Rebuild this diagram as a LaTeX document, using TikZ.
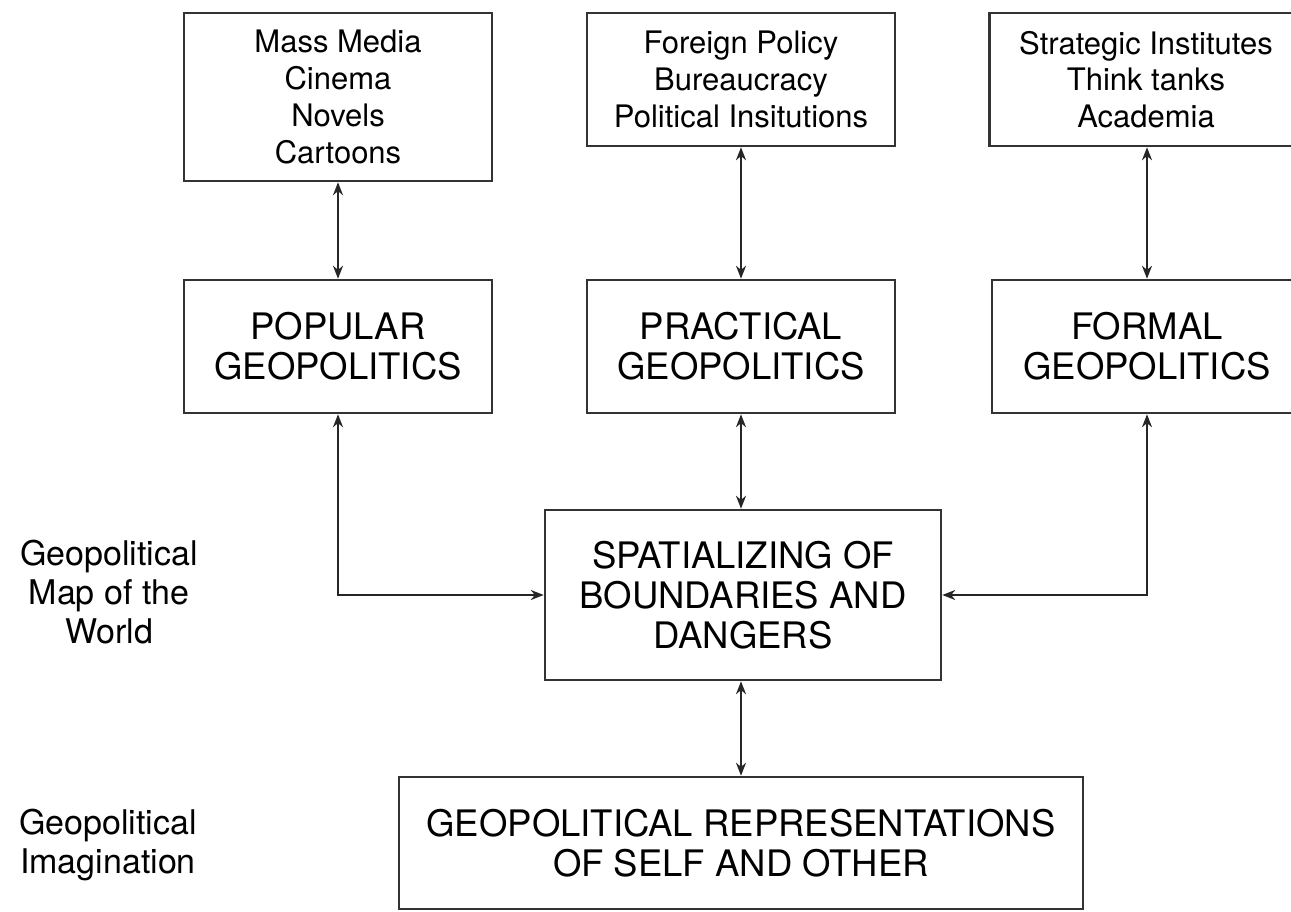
\documentclass[tikz,border=0pt]{standalone}
\usepackage{fontspec}
\setmainfont{TeX Gyre Heros}
\usetikzlibrary{arrows.meta}

\tikzset{
  box/.style={draw=black!80, line width=2.5pt, align=center, inner sep=0pt,
    minimum width=308pt, minimum height=133pt},
  small/.style={font=\fontsize{31}{36.7}\selectfont},
  big/.style={font=\fontsize{36.5}{40}\selectfont},
  side/.style={align=center, font=\fontsize{34}{39}\selectfont},
}

\begin{document}
\begin{tikzpicture}[x=1pt, y=-1pt, line width=2.2pt, draw=black!85, <->, >={Stealth[length=13pt,width=10pt]}]
  \useasboundingbox (0,0) rectangle (1291,912);
  % sources
  \node[box, small, minimum height=168pt] (media) at (338,97) {Mass Media\\Cinema\\Novels\\Cartoons};
  \node[box, small] (policy) at (741,79.5) {Foreign Policy\\Bureaucracy\\Political Insitutions};
  \node[box, small, minimum width=313pt] (think) at (1146,79.5) {Strategic Institutes\\Think tanks\\Academia};
  % geopolitics
  \node[box, big] (popular) at (338,346.5) {POPULAR\\GEOPOLITICS};
  \node[box, big] (practical) at (741,346.5) {PRACTICAL\\GEOPOLITICS};
  \node[box, big, minimum width=310pt] (formal) at (1147,346.5) {FORMAL\\GEOPOLITICS};
  \node[box, big, minimum width=396pt, minimum height=170pt] (spatial) at (743,595) {SPATIALIZING OF\\BOUNDARIES AND\\DANGERS};
  \node[box, big, minimum width=684pt, minimum height=132pt] (repr) at (741,843) {GEOPOLITICAL REPRESENTATIONS\\OF SELF AND OTHER};
  % labels on the left
  \node[side] (maplbl) at (109,592) {Geopolitical\\Map of the\\World};
  \node[side] (imaglbl) at (108,845) {Geopolitical\\Imagination};
  \draw (media) -- (popular);
  \draw (policy) -- (practical);
  \draw (think.south -| formal) -- (formal);
  \draw (practical.south) -- (practical.south |- spatial.north);
  \draw (repr.north |- spatial.south) -- (repr.north);
  \draw (popular.south) |- (spatial.west);
  \draw (formal.south) |- (spatial.east);
\end{tikzpicture}
\end{document}
